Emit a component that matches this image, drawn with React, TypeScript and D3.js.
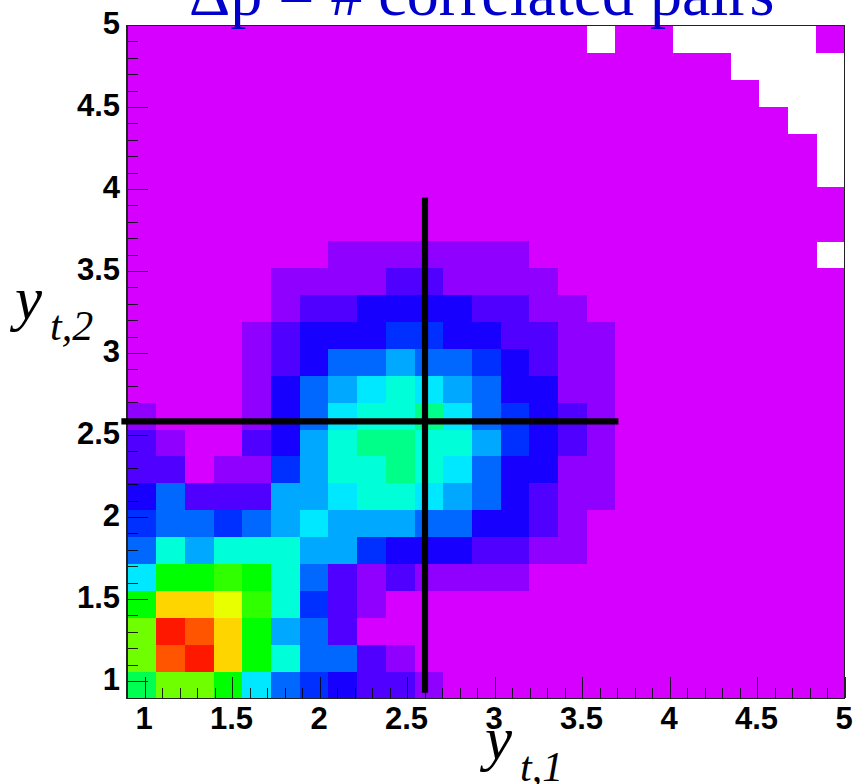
import React from "react";
import * as d3 from "d3";

const WIDTH = 854;
const HEIGHT = 784;

// Contour level colours (index = level, 0 = empty bin)
const levelColors = [
  "#ffffff", "#d500ff", "#9000ff", "#5000ff", "#1800ff", "#0030ff", "#0068ff",
  "#00a8ff", "#00e8ff", "#00ffd8", "#00ff88", "#00ff50", "#00ff00", "#30ff00",
  "#70ff00", "#e8ff00", "#ffd500", "#ff5500", "#ff1800",
];

// Bin levels: first array = top row (y near 5), columns left to right
const row00 = [1,1,1,1,1,1,1,1,1,1,1,1,1,1,1,1,0,1,1,0,0,0,0,0,1];
const row01 = [1,1,1,1,1,1,1,1,1,1,1,1,1,1,1,1,1,1,1,1,1,0,0,0,0];
const row02 = [1,1,1,1,1,1,1,1,1,1,1,1,1,1,1,1,1,1,1,1,1,1,0,0,0];
const row03 = [1,1,1,1,1,1,1,1,1,1,1,1,1,1,1,1,1,1,1,1,1,1,1,0,0];
const row04 = [1,1,1,1,1,1,1,1,1,1,1,1,1,1,1,1,1,1,1,1,1,1,1,1,0];
const row05 = [1,1,1,1,1,1,1,1,1,1,1,1,1,1,1,1,1,1,1,1,1,1,1,1,0];
const row06 = [1,1,1,1,1,1,1,1,1,1,1,1,1,1,1,1,1,1,1,1,1,1,1,1,1];
const row07 = [1,1,1,1,1,1,1,1,1,1,1,1,1,1,1,1,1,1,1,1,1,1,1,1,1];
const row08 = [1,1,1,1,1,1,1,2,2,2,2,2,2,2,1,1,1,1,1,1,1,1,1,1,0];
const row09 = [1,1,1,1,1,2,2,2,2,3,3,2,2,2,2,1,1,1,1,1,1,1,1,1,1];
const row10 = [1,1,1,1,1,2,3,3,4,4,4,4,3,3,2,2,1,1,1,1,1,1,1,1,1];
const row11 = [1,1,1,1,2,3,4,4,4,5,5,4,4,3,3,2,2,1,1,1,1,1,1,1,1];
const row12 = [1,1,1,1,2,3,4,6,6,7,6,6,5,4,3,2,2,1,1,1,1,1,1,1,1];
const row13 = [1,1,1,1,2,4,6,7,8,9,8,7,6,4,4,2,2,1,1,1,1,1,1,1,1];
const row14 = [2,1,1,1,2,4,6,8,9,9,10,8,6,5,4,3,2,1,1,1,1,1,1,1,1];
const row15 = [3,2,1,1,3,4,7,9,10,10,9,9,7,5,4,3,2,1,1,1,1,1,1,1,1];
const row16 = [3,3,1,2,2,5,7,9,9,10,9,8,6,4,4,2,2,1,1,1,1,1,1,1,1];
const row17 = [4,6,3,3,3,7,7,8,9,9,8,7,6,4,3,2,2,1,1,1,1,1,1,1,1];
const row18 = [5,6,6,5,6,7,8,7,7,7,6,6,4,4,3,2,1,1,1,1,1,1,1,1,1];
const row19 = [6,9,7,9,9,9,7,7,5,4,4,4,3,3,2,2,1,1,1,1,1,1,1,1,1];
const row20 = [8,12,12,13,12,9,6,3,2,3,2,2,2,2,1,1,1,1,1,1,1,1,1,1,1];
const row21 = [12,16,16,15,13,9,5,3,2,1,1,1,1,1,1,1,1,1,1,1,1,1,1,1,1];
const row22 = [14,18,17,16,12,7,6,3,1,1,1,1,1,1,1,1,1,1,1,1,1,1,1,1,1];
const row23 = [14,17,18,16,12,9,6,6,3,2,1,1,1,1,1,1,1,1,1,1,1,1,1,1,1];
const row24 = [11,14,14,12,8,6,5,4,3,3,2,1,1,1,1,1,1,1,1,1,1,1,1,1,1];
const rows = [row00,row01,row02,row03,row04,row05,row06,row07,row08,row09,row10,row11,row12,row13,row14,row15,row16,row17,row18,row19,row20,row21,row22,row23,row24];

const axisMin = 0.9;
const axisMax = 5;
const tickLabels = ["1", "1.5", "2", "2.5", "3", "3.5", "4", "4.5", "5"];
const minorTicks = d3.range(10, 51).map((v) => v / 10);

// Cross-hair: centre and extents in data units
const crossX = 2.6;
const crossY = 2.59;
const crossXExtent = [0.865, 3.705];
const crossYExtent = [0.935, 3.955];

const x = d3.scaleLinear().domain([axisMin, axisMax]).range([127.5, 845]);
const y = d3.scaleLinear().domain([axisMin, axisMax]).range([698.5, 26]);
const color = d3.scaleOrdinal<number, string>().domain(d3.range(levelColors.length)).range(levelColors);
const binSize = (axisMax - axisMin) / 25;

export default function App() {
  return (
    <svg
      width={WIDTH}
      height={HEIGHT}
      viewBox={`0 0 ${WIDTH} ${HEIGHT}`}
      style={{ position: "absolute", left: 0, top: 0, display: "block", background: "#fff" }}
    >
      <g shapeRendering="crispEdges">
        {rows.flatMap((row, r) =>
          row.map((lv, c) => {
            if (lv === 0) return null;
            const x0 = x(axisMin + c * binSize);
            const x1 = x(axisMin + (c + 1) * binSize);
            const y0 = y(axisMax - r * binSize);
            const y1 = y(axisMax - (r + 1) * binSize);
            return <rect key={`${r}-${c}`} x={x0} y={y0} width={x1 - x0 + 0.3} height={y1 - y0 + 0.3} fill={color(lv)} />;
          })
        )}
      </g>

      {/* minor & major ticks */}
      <g stroke="#000" strokeWidth={1} shapeRendering="crispEdges" strokeOpacity={0.85}>
        {minorTicks.map((v, i) => {
          const len = i % 5 === 0 ? 21 : 10.5;
          return (
            <g key={v}>
              <line x1={x(v)} x2={x(v)} y1={698} y2={698 - len} />
              <line x1={127} x2={127 + len} y1={y(v) - 0.5} y2={y(v) - 0.5} />
            </g>
          );
        })}
      </g>

      {/* frame */}
      <g fill="none" stroke="#222" shapeRendering="crispEdges">
        <line x1={127} x2={127} y1={25} y2={699} strokeWidth={1.5} />
        <line x1={126.5} x2={845} y1={698.5} y2={698.5} strokeWidth={1.5} />
        <line x1={127} x2={845} y1={25.5} y2={25.5} strokeWidth={1} />
        <line x1={844.5} x2={844.5} y1={25} y2={699} strokeWidth={1} />
      </g>

      {/* cross-hair */}
      <g stroke="#000" strokeWidth={6.2}>
        <line x1={x(crossXExtent[0])} x2={x(crossXExtent[1])} y1={y(crossY)} y2={y(crossY)} />
        <line x1={x(crossX)} x2={x(crossX)} y1={y(crossYExtent[1])} y2={y(crossYExtent[0])} />
      </g>

      {/* tick labels */}
      <g fontFamily="'Liberation Sans', Arial, sans-serif" fontWeight="bold" fontSize={31} fill="#000">
        {tickLabels.map((t) => (
          <text key={`x${t}`} x={x(+t) - 1} y={729} textAnchor="middle">{t}</text>
        ))}
        {tickLabels.map((t) => (
          <text key={`y${t}`} x={120} y={y(+t) + 8} textAnchor="end">{t}</text>
        ))}
      </g>

      {/* axis titles */}
      <g fontFamily="'Liberation Serif', 'Times New Roman', serif" fontStyle="italic" fill="#000">
        <text x={15} y={319} fontSize={61}>y</text>
        <text x={50} y={340} fontSize={42}>t,2</text>
        <text x={485} y={759} fontSize={61}>y</text>
        <text x={520} y={781} fontSize={42}>t,1</text>
      </g>

      {/* title */}
      <text x={189} y={14.5} fontFamily="'Liberation Serif', 'Times New Roman', serif" fontSize={64} fill="#0000cc">
        Δp = # correlated pairs
      </text>
    </svg>
  );
}
